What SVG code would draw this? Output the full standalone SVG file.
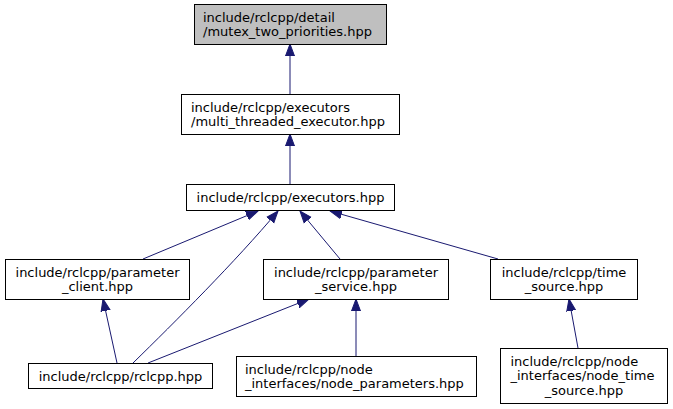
<svg xmlns="http://www.w3.org/2000/svg" width="673" height="409" viewBox="0 0 673 409">
<style>
rect{fill:#fff;stroke:#000;stroke-width:1}
text{font-family:"DejaVu Sans",sans-serif;font-size:13px;fill:#000}
.c{text-anchor:middle}
.e path{fill:none;stroke:#191970;stroke-width:1}
</style>
<defs>
<marker id="a" markerWidth="13" markerHeight="11" refX="12" refY="5.5" orient="auto" markerUnits="userSpaceOnUse">
<path d="M0,1 L12,5.5 L0,10 z" fill="#191970" stroke="#191970"/>
</marker>
</defs>
<rect x="0" y="0" width="673" height="409" style="stroke:none"/>
<g class="e">
<path d="M290,94 L290,44" marker-end="url(#a)"/>
<path d="M290,184 L290,134" marker-end="url(#a)"/>
<path d="M143,259 L258,211" marker-end="url(#a)"/>
<path d="M133,363 C175,322 235,262 278,211" marker-end="url(#a)"/>
<path d="M340,259 L300,211" marker-end="url(#a)"/>
<path d="M498,259 L330,211" marker-end="url(#a)"/>
<path d="M117,363 L103,299" marker-end="url(#a)"/>
<path d="M148,363 L309,299" marker-end="url(#a)"/>
<path d="M356,356 L356,299" marker-end="url(#a)"/>
<path d="M578,348 L569,299" marker-end="url(#a)"/>
</g>
<g id="n1"><rect x="194.5" y="4.5" width="192" height="40" style="fill:#bfbfbf"/><text x="203" y="21.5">include/rclcpp/detail</text><text x="203" y="36">/mutex_two_priorities.hpp</text></g>
<g id="n2"><rect x="181.5" y="94.5" width="218" height="40"/><text x="191" y="111.5">include/rclcpp/executors</text><text x="191" y="126">/multi_threaded_executor.hpp</text></g>
<g id="n3"><rect x="186.5" y="184.5" width="208" height="26"/><text class="c" x="290.5" y="202">include/rclcpp/executors.hpp</text></g>
<g id="n4"><rect x="5.5" y="259.5" width="184" height="40"/><text class="c" x="97.5" y="276.5">include/rclcpp/parameter</text><text class="c" x="97.5" y="291">_client.hpp</text></g>
<g id="n5"><rect x="263.5" y="259.5" width="185" height="40"/><text class="c" x="356" y="276.5">include/rclcpp/parameter</text><text class="c" x="356" y="291">_service.hpp</text></g>
<g id="n6"><rect x="490.5" y="259.5" width="147" height="40"/><text class="c" x="564" y="276.5">include/rclcpp/time</text><text class="c" x="564" y="291">_source.hpp</text></g>
<g id="n7"><rect x="28.5" y="363.5" width="184" height="25"/><text class="c" x="120.5" y="380.5">include/rclcpp/rclcpp.hpp</text></g>
<g id="n8"><rect x="236.5" y="356.5" width="240" height="40"/><text x="245" y="373.5">include/rclcpp/node</text><text x="245" y="388">_interfaces/node_parameters.hpp</text></g>
<g id="n9"><rect x="500.5" y="348.5" width="167" height="55"/><text x="510.5" y="365.5">include/rclcpp/node</text><text x="510.5" y="380">_interfaces/node_time</text><text class="c" x="584" y="394.5">_source.hpp</text></g>
</svg>
